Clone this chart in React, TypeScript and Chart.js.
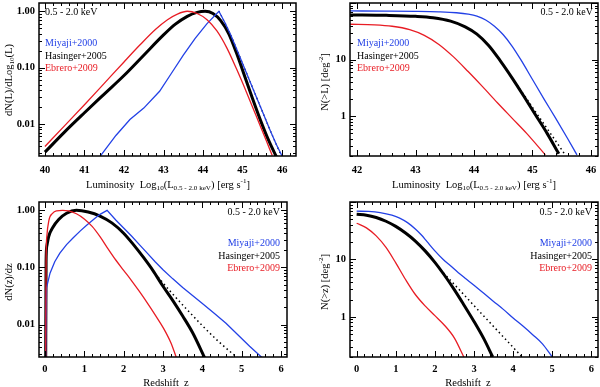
import React, { useEffect, useRef } from "react";
import { Chart, registerables } from "chart.js";
Chart.register(...registerables);

const FONT = "'Liberation Serif', 'Times New Roman', serif";
const BLUE = "rgb(35,65,230)";
const RED = "rgb(232,28,36)";
const BLACK = "#000";

// ---------- Panel 1: dN(L)/dLog10(L) ----------
const lumTicks1 = [40, 41, 42, 43, 44, 45, 46];
const dnlTicks = [0.01, 0.1, 1];
const p1RedL = [40, 40.5, 41, 41.5, 42, 42.4, 42.8, 43.1, 43.35, 43.6, 43.85, 44.1, 44.35, 44.6, 44.85, 45.1, 45.35, 45.6, 45.75];
const p1RedV = [0.00398, 0.00933, 0.0219, 0.0525, 0.126, 0.251, 0.479, 0.708, 0.891, 1.0, 0.912, 0.708, 0.447, 0.224, 0.0933, 0.0363, 0.0135, 0.00501, 0.00275];
const p1BlackL = [40, 40.5, 41, 41.5, 42, 42.5, 43, 43.3, 43.6, 43.85, 44.05, 44.25, 44.45, 44.65, 44.85, 45.05, 45.25, 45.45, 45.65, 45.88];
const p1BlackV = [0.00316, 0.00724, 0.0158, 0.0339, 0.0724, 0.166, 0.38, 0.589, 0.813, 0.955, 1.0, 0.912, 0.676, 0.398, 0.178, 0.0708, 0.0282, 0.0117, 0.00525, 0.0024];
const p1BlueL = [41.39, 41.8, 42.15, 42.5, 42.9, 43.2, 43.5, 43.8, 44.1, 44.4, 44.55, 44.7, 44.9, 45.1, 45.3, 45.5, 45.7, 45.85, 46.02];
const p1BlueV = [0.00263, 0.00631, 0.012, 0.0191, 0.038, 0.0794, 0.166, 0.331, 0.603, 1.0, 0.631, 0.38, 0.174, 0.0794, 0.0363, 0.0166, 0.00759, 0.00437, 0.00251];
const p1DotL = [44.4, 44.55, 44.7, 44.9, 45.1, 45.3, 45.5, 45.7, 45.85, 46.0];
const p1DotV = [1.0, 0.631, 0.38, 0.174, 0.0794, 0.0363, 0.0166, 0.00759, 0.00437, 0.00251];

// ---------- Panel 2: N(>L) ----------
const lumTicks2 = [42, 43, 44, 45, 46];
const cumTicks = [1, 10];
const p2BlueL = [41.88, 42.5, 43.0, 43.4, 43.7, 43.9, 44.05, 44.2, 44.35, 44.5, 44.65, 44.8, 45.0, 45.2, 45.4, 45.6, 45.76];
const p2BlueV = [72.4, 71.9, 71.1, 69.7, 67.3, 63.8, 58.9, 50.1, 38.9, 27.5, 17.4, 10.0, 4.47, 2.0, 0.912, 0.407, 0.209];
const p2BlackL = [41.88, 42.5, 43.0, 43.3, 43.6, 43.85, 44.05, 44.25, 44.45, 44.65, 44.85, 45.05, 45.25, 45.45];
const p2BlackV = [61.7, 60.5, 58.2, 55.0, 47.9, 38.0, 28.2, 17.8, 9.55, 4.79, 2.29, 1.07, 0.501, 0.219];
const p2DotL = [44.65, 44.9, 45.1, 45.3, 45.56];
const p2DotV = [4.79, 2.04, 1.02, 0.513, 0.209];
const p2RedL = [41.88, 42.3, 42.6, 42.9, 43.15, 43.4, 43.65, 43.9, 44.15, 44.4, 44.65, 44.9, 45.22];
const p2RedV = [42.2, 41.2, 38.9, 33.9, 26.9, 18.6, 11.2, 6.17, 3.31, 1.74, 0.933, 0.501, 0.209];

// ---------- Panel 3: dN(z)/dz ----------
const zTicks = [0, 1, 2, 3, 4, 5, 6];
const p3RedZ = [0.02, 0.03, 0.05, 0.1, 0.2, 0.3, 0.45, 0.6, 0.8, 1.0, 1.2, 1.4, 1.6, 1.8, 2.0, 2.2, 2.4, 2.6, 2.8, 3.0, 3.2, 3.35];
const p3RedV = [0.00251, 0.126, 0.355, 0.661, 0.891, 0.977, 1.0, 0.977, 0.871, 0.708, 0.525, 0.347, 0.214, 0.135, 0.0891, 0.0589, 0.038, 0.024, 0.0148, 0.00891, 0.00479, 0.00251];
const p3BlackZ = [0.02, 0.03, 0.05, 0.1, 0.2, 0.35, 0.55, 0.8, 1.1, 1.4, 1.7, 2.0, 2.25, 2.5, 2.75, 3.0, 3.25, 3.5, 3.75, 4.07];
const p3BlackV = [0.00251, 0.126, 0.24, 0.355, 0.501, 0.692, 0.891, 1.0, 0.933, 0.794, 0.603, 0.398, 0.251, 0.151, 0.0871, 0.0468, 0.0263, 0.0141, 0.00724, 0.00251];
const p3DotZ = [2.8, 3.2, 3.6, 4.0, 4.4, 4.92];
const p3DotV = [0.0776, 0.0372, 0.0186, 0.00955, 0.00513, 0.00251];
const p3BlueZ = [0.02, 0.04, 0.13, 0.25, 0.38, 0.55, 0.72, 0.9, 1.06, 1.25, 1.4, 1.58, 1.8, 2.0, 2.2, 2.4, 2.6, 2.8, 3.0, 3.25, 3.5, 3.75, 4.0, 4.3, 4.6, 4.9, 5.2, 5.55];
const p3BlueV = [0.00251, 0.0437, 0.0794, 0.126, 0.178, 0.251, 0.331, 0.437, 0.55, 0.708, 0.851, 1.0, 0.676, 0.49, 0.355, 0.251, 0.178, 0.126, 0.0912, 0.0631, 0.0447, 0.0324, 0.0234, 0.0158, 0.0105, 0.0066, 0.00417, 0.00251];

// ---------- Panel 4: N(>z) ----------
const p4BlueZ = [0, 0.3, 0.6, 0.9, 1.1, 1.3, 1.5, 1.65, 1.8, 2.0, 2.2, 2.4, 2.6, 2.8, 3.0, 3.25, 3.5, 3.75, 4.0, 4.25, 4.5, 4.75, 5.0];
const p4BlueV = [69.2, 68.4, 65.3, 58.9, 52.5, 43.7, 33.9, 26.9, 20.4, 14.1, 10.2, 7.76, 5.89, 4.57, 3.55, 2.57, 1.86, 1.35, 0.955, 0.692, 0.49, 0.339, 0.2];
const p4BlackZ = [0, 0.25, 0.5, 0.75, 1.0, 1.25, 1.5, 1.75, 2.0, 2.25, 2.5, 2.75, 3.0, 3.25, 3.48];
const p4BlackV = [61.0, 58.9, 53.7, 46.2, 37.6, 28.8, 20.9, 14.1, 8.91, 5.25, 2.95, 1.58, 0.832, 0.417, 0.2];
const p4DotZ = [2.14, 2.6, 3.0, 3.4, 3.8, 4.23];
const p4DotV = [6.61, 3.09, 1.57, 0.804, 0.412, 0.2];
const p4RedZ = [0, 0.25, 0.5, 0.75, 1.0, 1.25, 1.5, 1.75, 2.0, 2.25, 2.5, 2.74];
const p4RedV = [42.7, 35.5, 25.7, 16.2, 8.71, 4.47, 2.45, 1.55, 1.05, 0.708, 0.427, 0.2];

const legendNames = ["Miyaji+2000", "Hasinger+2005", "Ebrero+2009"];
const legendColors = [BLUE, BLACK, RED];
const bandLabel = "0.5 - 2.0 keV";

type Seg = { t: string; k?: "sub" | "sup" };
const lumTitle: Seg[] = [
  { t: "Luminosity  Log" }, { t: "10", k: "sub" }, { t: "(L" }, { t: "0.5 - 2.0 keV", k: "sub" },
  { t: ") [erg s" }, { t: "-1", k: "sup" }, { t: "]" },
];
const zTitle: Seg[] = [{ t: "Redshift  z" }];

function pts(xs: number[], ys: number[]) {
  return xs.map((x, i) => ({ x, y: ys[i] }));
}

function line(xs: number[], ys: number[], color: string, width: number, opts: any = {}) {
  return {
    data: pts(xs, ys),
    borderColor: color,
    backgroundColor: color,
    borderWidth: width,
    pointRadius: 0,
    showLine: true,
    fill: false,
    cubicInterpolationMode: "monotone",
    ...opts,
  };
}

function drawRich(ctx: CanvasRenderingContext2D, segs: Seg[], x: number, y: number, align: string, size: number, color: string) {
  const fontFor = (s: Seg) => `${s.k ? size * 0.68 : size}px ${FONT}`;
  const widths = segs.map((s) => { ctx.font = fontFor(s); return ctx.measureText(s.t).width; });
  const total = widths.reduce((a, b) => a + b, 0);
  let cx = align === "left" ? x : align === "center" ? x - total / 2 : x - total;
  ctx.fillStyle = color;
  ctx.textBaseline = "middle";
  ctx.textAlign = "left";
  segs.forEach((s, i) => {
    ctx.font = fontFor(s);
    const dy = s.k === "sub" ? size * 0.32 : s.k === "sup" ? -size * 0.38 : 0;
    ctx.fillText(s.t, cx, y + dy);
    cx += widths[i];
  });
}

interface PanelCfg {
  left: number; top: number; width: number; height: number;
  area: { l: number; r: number; t: number; b: number };
  xMin: number; xMax: number; xTicks: number[]; xMinor: number;
  yMin: number; yMax: number; yTicks: number[]; yFmt: (v: number) => string;
  xPad: number;
  datasets: any[];
  xTitle: Seg[]; xTitlePos: [number, number];
  yTitle: Seg[]; yTitlePos: [number, number];
  band: [number, number, string];
  legend: [number, number[], string];
}

const panels: PanelCfg[] = [
  {
    left: 0, top: 0, width: 300, height: 195,
    area: { l: 39, r: 296, t: 3, b: 156 },
    xMin: 39.85, xMax: 46.35, xTicks: lumTicks1, xMinor: 0.2,
    yMin: 0.0027, yMax: 1.4, yTicks: dnlTicks, yFmt: (v) => v.toFixed(2),
    xPad: 8,
    datasets: [
      line(p1RedL, p1RedV, RED, 1.3),
      line(p1BlueL, p1BlueV, BLUE, 1.3, { cubicInterpolationMode: "default", tension: 0 }),
      line(p1DotL, p1DotV, BLACK, 1.3, { borderDash: [1.5, 3], cubicInterpolationMode: "default", tension: 0 }),
      line(p1BlackL, p1BlackV, BLACK, 3),
    ],
    xTitle: lumTitle, xTitlePos: [168, 185],
    yTitle: [{ t: "dN(L)/dLog" }, { t: "10", k: "sub" }, { t: "(L)" }], yTitlePos: [9, 80],
    band: [45, 12, "left"],
    legend: [45, [43, 56, 68], "left"],
  },
  {
    left: 300, top: 0, width: 300, height: 195,
    area: { l: 50, r: 298, t: 3, b: 156 },
    xMin: 41.88, xMax: 46.12, xTicks: lumTicks2, xMinor: 0.2,
    yMin: 0.2, yMax: 100, yTicks: cumTicks, yFmt: (v) => String(v),
    xPad: 8,
    datasets: [
      line(p2RedL, p2RedV, RED, 1.3),
      line(p2BlueL, p2BlueV, BLUE, 1.3),
      line(p2DotL, p2DotV, BLACK, 1.5, { borderDash: [1.5, 3] }),
      line(p2BlackL, p2BlackV, BLACK, 3),
    ],
    xTitle: lumTitle, xTitlePos: [174, 185],
    yTitle: [{ t: "N(>L) [deg" }, { t: "-2", k: "sup" }, { t: "]" }], yTitlePos: [25, 82],
    band: [293, 12, "right"],
    legend: [57, [43, 56, 68], "left"],
  },
  {
    left: 0, top: 195, width: 300, height: 192,
    area: { l: 39, r: 287, t: 7, b: 162 },
    xMin: -0.15, xMax: 6.15, xTicks: zTicks, xMinor: 0.2,
    yMin: 0.0027, yMax: 1.4, yTicks: dnlTicks, yFmt: (v) => v.toFixed(2),
    xPad: 6,
    datasets: [
      line(p3RedZ, p3RedV, RED, 1.3),
      line(p3BlueZ, p3BlueV, BLUE, 1.3, { cubicInterpolationMode: "default", tension: 0 }),
      line(p3DotZ, p3DotV, BLACK, 1.5, { borderDash: [1.5, 3] }),
      line(p3BlackZ, p3BlackV, BLACK, 3),
    ],
    xTitle: zTitle, xTitlePos: [166, 188],
    yTitle: [{ t: "dN(z)/dz" }], yTitlePos: [9, 87],
    band: [280, 17, "right"],
    legend: [280, [48, 61, 73], "right"],
  },
  {
    left: 300, top: 195, width: 300, height: 192,
    area: { l: 50, r: 298, t: 7, b: 162 },
    xMin: -0.17, xMax: 6.17, xTicks: zTicks, xMinor: 0.2,
    yMin: 0.2, yMax: 100, yTicks: cumTicks, yFmt: (v) => String(v),
    xPad: 6,
    datasets: [
      line(p4RedZ, p4RedV, RED, 1.3),
      line(p4BlueZ, p4BlueV, BLUE, 1.3),
      line(p4DotZ, p4DotV, BLACK, 1.5, { borderDash: [1.5, 3] }),
      line(p4BlackZ, p4BlackV, BLACK, 3),
    ],
    xTitle: zTitle, xTitlePos: [168, 188],
    yTitle: [{ t: "N(>z) [deg" }, { t: "-2", k: "sup" }, { t: "]" }], yTitlePos: [25, 87],
    band: [292, 17, "right"],
    legend: [292, [48, 61, 73], "right"],
  },
];

function makeDecor(cfg: PanelCfg) {
  return {
    id: "decor",
    afterDraw(chart: any) {
      const ctx: CanvasRenderingContext2D = chart.ctx;
      const ca = chart.chartArea;
      const xs = chart.scales.x;
      const ys = chart.scales.y;
      ctx.save();
      ctx.strokeStyle = "#000";
      ctx.lineWidth = 1;
      ctx.beginPath();
      const nMin = Math.ceil(cfg.xMin / cfg.xMinor - 1e-6);
      const nMax = Math.floor(cfg.xMax / cfg.xMinor + 1e-6);
      for (let n = nMin; n <= nMax; n++) {
        const v = n * cfg.xMinor;
        const major = cfg.xTicks.some((t) => Math.abs(t - v) < 1e-6);
        const len = major ? 6 : 3;
        const px = Math.round(xs.getPixelForValue(v)) + 0.5;
        ctx.moveTo(px, ca.bottom); ctx.lineTo(px, ca.bottom - len);
        ctx.moveTo(px, ca.top); ctx.lineTo(px, ca.top + len);
      }
      const d0 = Math.floor(Math.log10(cfg.yMin));
      const d1 = Math.ceil(Math.log10(cfg.yMax));
      for (let d = d0; d <= d1; d++) {
        for (let m = 1; m <= 9; m++) {
          const v = m * Math.pow(10, d);
          if (v < cfg.yMin || v > cfg.yMax) continue;
          const len = m === 1 ? 6 : 3;
          const py = Math.round(ys.getPixelForValue(v)) + 0.5;
          ctx.moveTo(ca.left, py); ctx.lineTo(ca.left + len, py);
          ctx.moveTo(ca.right, py); ctx.lineTo(ca.right - len, py);
        }
      }
      ctx.stroke();
      ctx.lineWidth = 1.5;
      ctx.strokeRect(ca.left, ca.top, ca.right - ca.left, ca.bottom - ca.top);

      drawRich(ctx, cfg.xTitle, cfg.xTitlePos[0], cfg.xTitlePos[1], "center", 10.5, "#000");
      ctx.save();
      ctx.translate(cfg.yTitlePos[0], cfg.yTitlePos[1]);
      ctx.rotate(-Math.PI / 2);
      drawRich(ctx, cfg.yTitle, 0, 0, "center", 10.5, "#000");
      ctx.restore();

      drawRich(ctx, [{ t: bandLabel }], cfg.band[0], cfg.band[1], cfg.band[2], 10, "#000");
      legendNames.forEach((name, i) => {
        drawRich(ctx, [{ t: name }], cfg.legend[0], cfg.legend[1][i], cfg.legend[2], 10, legendColors[i]);
      });
      ctx.restore();
    },
  };
}

function Panel({ cfg }: { cfg: PanelCfg }) {
  const ref = useRef<HTMLCanvasElement | null>(null);
  useEffect(() => {
    if (!ref.current) return;
    const a = cfg.area;
    const chart = new Chart(ref.current, {
      type: "scatter",
      data: { datasets: cfg.datasets },
      options: {
        animation: false,
        responsive: false,
        maintainAspectRatio: false,
        events: [],
        layout: { padding: { left: 0, top: a.t, right: cfg.width - a.r, bottom: 0 } },
        plugins: { legend: { display: false }, tooltip: { enabled: false } },
        scales: {
          x: {
            type: "linear",
            min: cfg.xMin,
            max: cfg.xMax,
            grid: { display: false, drawTicks: false },
            border: { display: false },
            ticks: {
              color: "#000",
              font: { family: FONT, size: 10.5, weight: "bold" },
              padding: cfg.xPad,
              autoSkip: false,
              maxRotation: 0,
              callback: (v: any) => String(v),
            },
            afterBuildTicks: (s: any) => { s.ticks = cfg.xTicks.map((v) => ({ value: v })); },
            afterFit: (s: any) => { s.height = cfg.height - a.b; s.paddingLeft = 0; s.paddingRight = 0; },
          },
          y: {
            type: "logarithmic",
            min: cfg.yMin,
            max: cfg.yMax,
            grid: { display: false, drawTicks: false },
            border: { display: false },
            ticks: {
              color: "#000",
              font: { family: FONT, size: 10.5, weight: "bold" },
              padding: 4,
              autoSkip: false,
              callback: (v: any) => cfg.yFmt(Number(v)),
            },
            afterBuildTicks: (s: any) => { s.ticks = cfg.yTicks.map((v) => ({ value: v })); },
            afterFit: (s: any) => { s.width = a.l; s.paddingTop = 0; s.paddingBottom = 0; },
          },
        },
      } as any,
      plugins: [makeDecor(cfg)],
    });
    return () => chart.destroy();
  }, [cfg]);
  return (
    <canvas
      ref={ref}
      width={cfg.width}
      height={cfg.height}
      style={{ position: "absolute", left: cfg.left, top: cfg.top, width: cfg.width, height: cfg.height }}
    />
  );
}

export default function App() {
  return (
    <div style={{ position: "fixed", left: 0, top: 0, width: 600, height: 387, background: "#fff", overflow: "hidden" }}>
      {panels.map((p, i) => (
        <Panel key={i} cfg={p} />
      ))}
    </div>
  );
}
